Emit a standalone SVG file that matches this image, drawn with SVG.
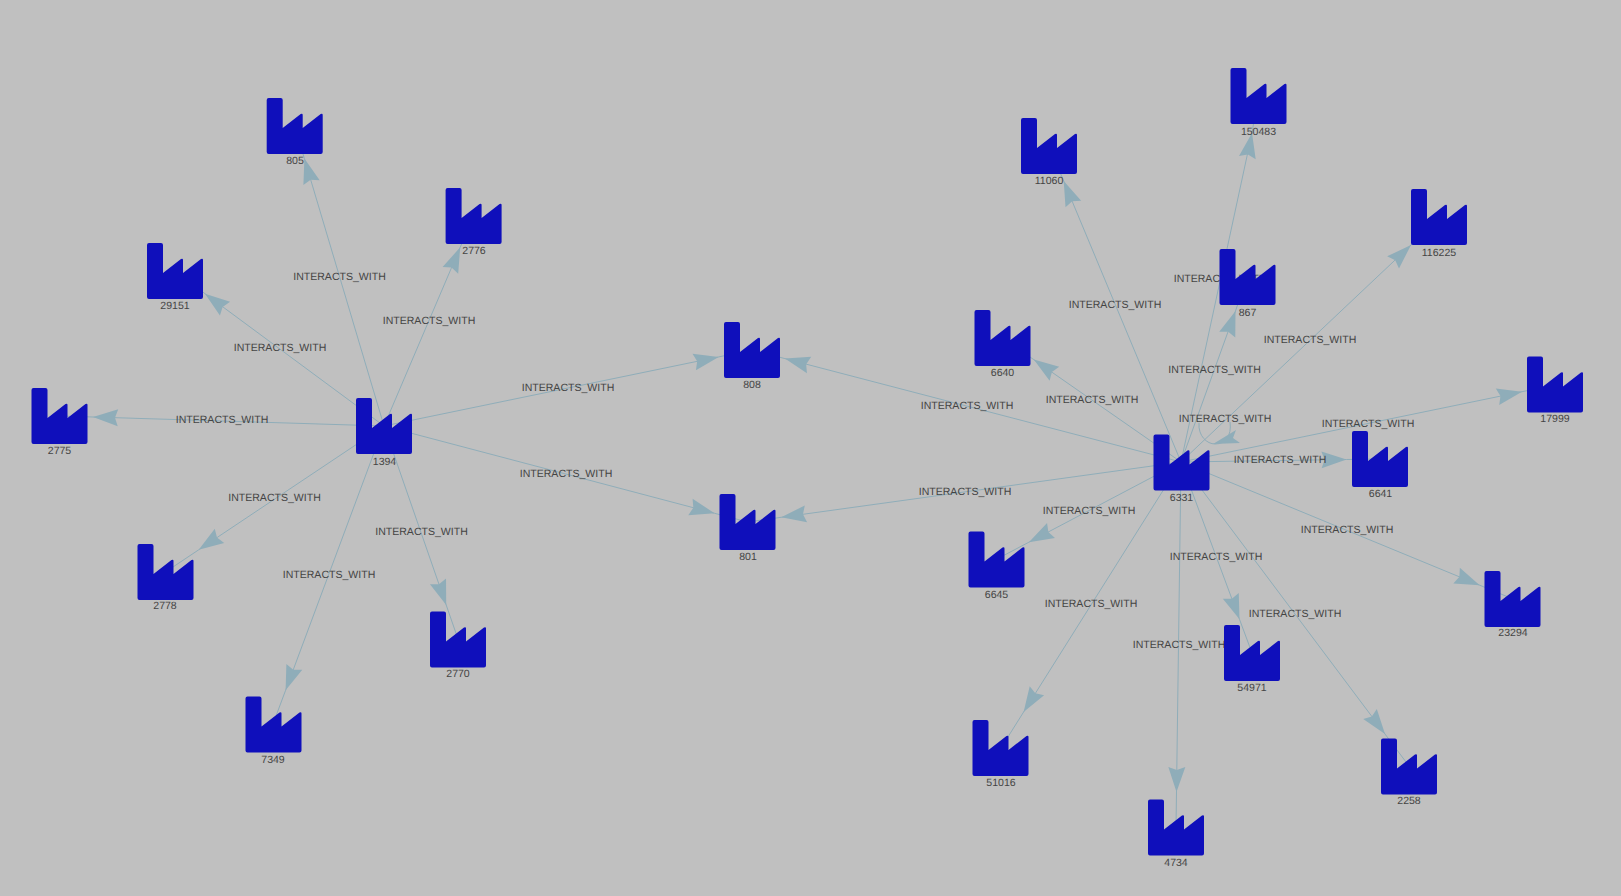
<svg xmlns="http://www.w3.org/2000/svg" width="1621" height="896" viewBox="0 0 1621 896">
<style>
.e{fill:none;stroke:#8fadb9;stroke-width:1;marker-mid:url(#a)}
.l{font:10.55px "Liberation Sans",Arial,sans-serif;fill:#444;text-anchor:middle;text-rendering:geometricPrecision}
.n{font:10.55px "Liberation Sans",Arial,sans-serif;fill:#444;text-anchor:middle;text-rendering:geometricPrecision}
.i{fill:#0f0fbb}
</style>
<defs>
<marker id="a" markerUnits="userSpaceOnUse" markerWidth="30" markerHeight="24" refX="28" refY="12" orient="auto"><path d="M3 3.500L28 12L3 20.500L6 12Z" fill="#8fadb9"/></marker>
<path id="f" d="M2 0H14Q16 0 16 2V30L34 16Q36 15 36 17V30L54 16Q56 15 56 17V54Q56 56 54 56H2Q0 56 0 54V2Q0 0 2 0Z"/>
</defs>
<rect width="1621" height="896" fill="#c0c0c0"/>
<g id="connectors">
<path class="e" d="M384 426L304.400 158.600L294.700 126"/>
<path class="e" d="M384 426L460.200 247.300L473.600 216"/>
<path class="e" d="M384 426L205 293.700L175 271"/>
<path class="e" d="M384 426L93 417L59 416"/>
<path class="e" d="M384 426L718.700 356.900L752 350"/>
<path class="e" d="M384 426L714.600 513.300L747.500 522"/>
<path class="e" d="M384 426L198.700 549.800L165.500 572"/>
<path class="e" d="M384 426L446.200 605L458 639"/>
<path class="e" d="M384 426L285.600 690.300L273 724"/>
<path class="e" d="M1181 462L784.900 358.600L752 350"/>
<path class="e" d="M1181 462L781.200 517.300L747.500 522"/>
<path class="e" d="M1181 462L1063.700 181L1049 146"/>
<path class="e" d="M1181 462L1252 133L1258 96"/>
<path class="e" d="M1181 462L1411 245L1439 217"/>
<path class="e" d="M1181 462L1235.500 311L1247 277"/>
<path class="e" d="M1181 462L1033.800 359.600L1002 338"/>
<path class="e" d="M1181 462L1346.500 459.500L1380 459"/>
<path class="e" d="M1181 462L1522 391.700L1555 385"/>
<path class="e" d="M1181 462L1028.900 542.200L997 559"/>
<path class="e" d="M1181 462L1479.700 585.200L1513 599"/>
<path class="e" d="M1181 462L1239.500 619.300L1252 653"/>
<path class="e" d="M1181 462L1023.600 712L1001 748"/>
<path class="e" d="M1181 462L1385 734L1409 766"/>
<path class="e" d="M1181 462L1176.500 792L1176 827"/>
<path d="M1199 423C1198 436 1207 444 1215 444C1225 444 1232 436 1230 422" fill="none" stroke="#8fadb9"/>
<path d="M1213 444L1236 430L1233 438L1240 443Z" fill="#8fadb9"/>
</g>
<g id="edge-labels">
<text class="l" x="339.500" y="280">INTERACTS_WITH</text>
<text class="l" x="429" y="324">INTERACTS_WITH</text>
<text class="l" x="280" y="351">INTERACTS_WITH</text>
<text class="l" x="222" y="423">INTERACTS_WITH</text>
<text class="l" x="568" y="391">INTERACTS_WITH</text>
<text class="l" x="566" y="477">INTERACTS_WITH</text>
<text class="l" x="274.500" y="501">INTERACTS_WITH</text>
<text class="l" x="421.500" y="535">INTERACTS_WITH</text>
<text class="l" x="329" y="578">INTERACTS_WITH</text>
<text class="l" x="967" y="409">INTERACTS_WITH</text>
<text class="l" x="965" y="495">INTERACTS_WITH</text>
<text class="l" x="1115" y="308">INTERACTS_WITH</text>
<text class="l" x="1220" y="282">INTERACTS_WITH</text>
<text class="l" x="1310" y="343">INTERACTS_WITH</text>
<text class="l" x="1214.500" y="373">INTERACTS_WITH</text>
<text class="l" x="1092" y="403">INTERACTS_WITH</text>
<text class="l" x="1225" y="422">INTERACTS_WITH</text>
<text class="l" x="1368" y="427">INTERACTS_WITH</text>
<text class="l" x="1280" y="463">INTERACTS_WITH</text>
<text class="l" x="1089" y="514">INTERACTS_WITH</text>
<text class="l" x="1347" y="533">INTERACTS_WITH</text>
<text class="l" x="1216" y="560">INTERACTS_WITH</text>
<text class="l" x="1295" y="617">INTERACTS_WITH</text>
<text class="l" x="1091" y="607">INTERACTS_WITH</text>
<text class="l" x="1179" y="648">INTERACTS_WITH</text>
</g>
<g id="n805"><use class="i" href="#f" x="266.700" y="98"/><text class="n" x="295" y="164">805</text></g>
<g id="n2776"><use class="i" href="#f" x="445.600" y="188"/><text class="n" x="474" y="254">2776</text></g>
<g id="n29151"><use class="i" href="#f" x="147" y="243"/><text class="n" x="175" y="309">29151</text></g>
<g id="n2775"><use class="i" href="#f" x="31.500" y="388"/><text class="n" x="59.500" y="454">2775</text></g>
<g id="n1394"><use class="i" href="#f" x="356" y="398"/><text class="n" x="384.500" y="465">1394</text></g>
<g id="n808"><use class="i" href="#f" x="724" y="322"/><text class="n" x="752" y="388">808</text></g>
<g id="n801"><use class="i" href="#f" x="719.500" y="494"/><text class="n" x="748" y="560">801</text></g>
<g id="n2778"><use class="i" href="#f" x="137.500" y="544"/><text class="n" x="165" y="609">2778</text></g>
<g id="n2770"><use class="i" href="#f" x="430" y="611.500"/><text class="n" x="458" y="677">2770</text></g>
<g id="n7349"><use class="i" href="#f" x="245.500" y="696.500"/><text class="n" x="273" y="763">7349</text></g>
<g id="n11060"><use class="i" href="#f" x="1021" y="118"/><text class="n" x="1049" y="184">11060</text></g>
<g id="n150483"><use class="i" href="#f" x="1230.500" y="68"/><text class="n" x="1258.500" y="135">150483</text></g>
<g id="n116225"><use class="i" href="#f" x="1411" y="189"/><text class="n" x="1439" y="256">116225</text></g>
<g id="n867"><use class="i" href="#f" x="1219.500" y="249"/><text class="n" x="1247.500" y="316">867</text></g>
<g id="n6640"><use class="i" href="#f" x="974.500" y="310"/><text class="n" x="1002.500" y="376">6640</text></g>
<g id="n6331"><use class="i" href="#f" x="1153.500" y="434.500"/><text class="n" x="1181.500" y="501">6331</text></g>
<g id="n6641"><use class="i" href="#f" x="1352" y="431"/><text class="n" x="1380.500" y="497">6641</text></g>
<g id="n17999"><use class="i" href="#f" x="1527" y="356.500"/><text class="n" x="1555" y="422">17999</text></g>
<g id="n6645"><use class="i" href="#f" x="968.500" y="531.500"/><text class="n" x="996.500" y="598">6645</text></g>
<g id="n23294"><use class="i" href="#f" x="1484.500" y="571"/><text class="n" x="1513" y="636">23294</text></g>
<g id="n54971"><use class="i" href="#f" x="1224" y="625"/><text class="n" x="1252" y="691">54971</text></g>
<g id="n51016"><use class="i" href="#f" x="972.500" y="720"/><text class="n" x="1001" y="786">51016</text></g>
<g id="n2258"><use class="i" href="#f" x="1381" y="738.500"/><text class="n" x="1409" y="804">2258</text></g>
<g id="n4734"><use class="i" href="#f" x="1148" y="799.500"/><text class="n" x="1176" y="866">4734</text></g>
</svg>
